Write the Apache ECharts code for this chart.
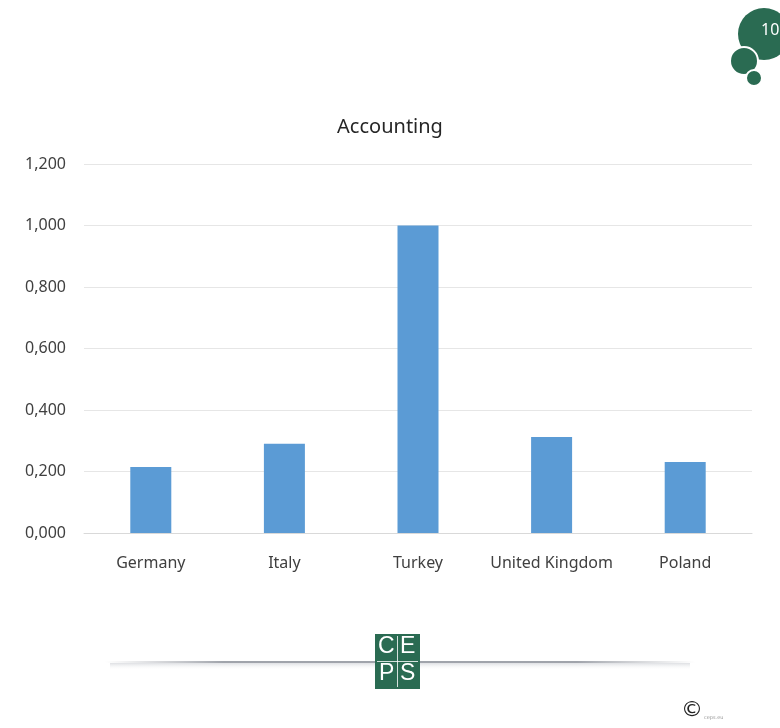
<!DOCTYPE html>
<html>
<head>
<meta charset="utf-8">
<script src="https://cdn.jsdelivr.net/npm/echarts@6/dist/echarts.min.js"></script>
<style>
  html, body { margin: 0; padding: 0; background: #fff; }
  #chart { width: 780px; height: 728px; }
</style>
</head>
<body>
<div id="chart"></div>
<script>
// Accounting indicator by country
const countries = ['Germany', 'Italy', 'Turkey', 'United Kingdom', 'Poland'];
const accountingValues = [0.215, 0.290, 1.000, 0.312, 0.231];
const yTicks = [0, 0.2, 0.4, 0.6, 0.8, 1.0, 1.2];

const green = '#2a6b52';
const labelFont = '"Noto Sans", "Open Sans", sans-serif';

const chart = echarts.init(document.getElementById('chart'));

chart.setOption({
  backgroundColor: '#ffffff',
  animation: false,
  title: {
    text: 'Accounting',
    left: 'center',
    top: 112,
    textStyle: { fontFamily: labelFont, fontSize: 20, fontWeight: 'normal', color: '#262626' }
  },
  grid: { left: 84, right: 28, top: 164, bottom: 195 },
  xAxis: {
    type: 'category',
    data: countries,
    axisLine: { lineStyle: { color: '#d9d9d9' } },
    axisTick: { show: false },
    axisLabel: { interval: 0, fontFamily: labelFont, fontSize: 16, color: '#404040', margin: 22 }
  },
  yAxis: {
    type: 'value',
    min: yTicks[0],
    max: yTicks[yTicks.length - 1],
    interval: 0.2,
    axisLine: { show: false },
    axisTick: { show: false },
    splitLine: { lineStyle: { color: '#e6e6e6' } },
    axisLabel: {
      fontFamily: labelFont, fontSize: 16, color: '#404040', margin: 18,
      formatter: v => v.toFixed(3).replace('.', ',')
    }
  },
  series: [{
    type: 'bar',
    data: accountingValues,
    barWidth: 41,
    itemStyle: { color: '#5b9bd5' }
  }],
  graphic: [
    // page number badge, top right
    { type: 'circle', shape: { cx: 764, cy: 34, r: 26 }, style: { fill: green } },
    { type: 'circle', shape: { cx: 744, cy: 61, r: 14 }, style: { fill: green, stroke: '#fff', lineWidth: 2 } },
    { type: 'circle', shape: { cx: 754, cy: 78, r: 8 }, style: { fill: green, stroke: '#fff', lineWidth: 2 } },
    { type: 'text', left: 761, top: 22, style: { text: '10', fill: '#ffffff', font: '16px "Noto Sans", sans-serif' } },

    // footer rule with soft shadow
    {
      type: 'rect', shape: { x: 110, y: 663, width: 580, height: 7 },
      style: {
        fill: new echarts.graphic.LinearGradient(0, 0, 0, 1, [
          { offset: 0, color: 'rgba(200,203,208,0.6)' },
          { offset: 1, color: 'rgba(255,255,255,0)' }
        ])
      }
    },
    {
      type: 'rect', shape: { x: 105, y: 661, width: 590, height: 2 },
      style: {
        fill: new echarts.graphic.LinearGradient(0, 0, 1, 0, [
          { offset: 0, color: 'rgba(165,168,174,0)' },
          { offset: 0.2, color: 'rgba(150,154,162,0.9)' },
          { offset: 0.8, color: 'rgba(150,154,162,0.9)' },
          { offset: 1, color: 'rgba(165,168,174,0)' }
        ])
      }
    },

    // CEPS logo
    { type: 'rect', shape: { x: 375, y: 634, width: 45, height: 55 }, style: { fill: green } },
    { type: 'rect', shape: { x: 397, y: 636, width: 1, height: 51 }, style: { fill: 'rgba(255,255,255,0.8)' } },
    { type: 'rect', shape: { x: 377, y: 661, width: 41, height: 1 }, style: { fill: 'rgba(255,255,255,0.8)' } },
    { type: 'text', left: 378, top: 635, style: { text: 'C', fill: '#ffffff', font: '23px "Liberation Sans", sans-serif' } },
    { type: 'text', left: 400, top: 635, style: { text: 'E', fill: '#ffffff', font: '23px "Liberation Sans", sans-serif' } },
    { type: 'text', left: 379, top: 662, style: { text: 'P', fill: '#ffffff', font: '23px "Liberation Sans", sans-serif' } },
    { type: 'text', left: 400, top: 662, style: { text: 'S', fill: '#ffffff', font: '23px "Liberation Sans", sans-serif' } },

    // copyright mark
    { type: 'text', left: 681, top: 699, style: { text: '©', fill: '#222222', font: '22px "DejaVu Sans", sans-serif' } },
    { type: 'text', left: 704, top: 715, style: { text: 'ceps.eu', fill: '#999999', font: '5px "DejaVu Sans", sans-serif' } }
  ]
});
</script>
</body>
</html>
